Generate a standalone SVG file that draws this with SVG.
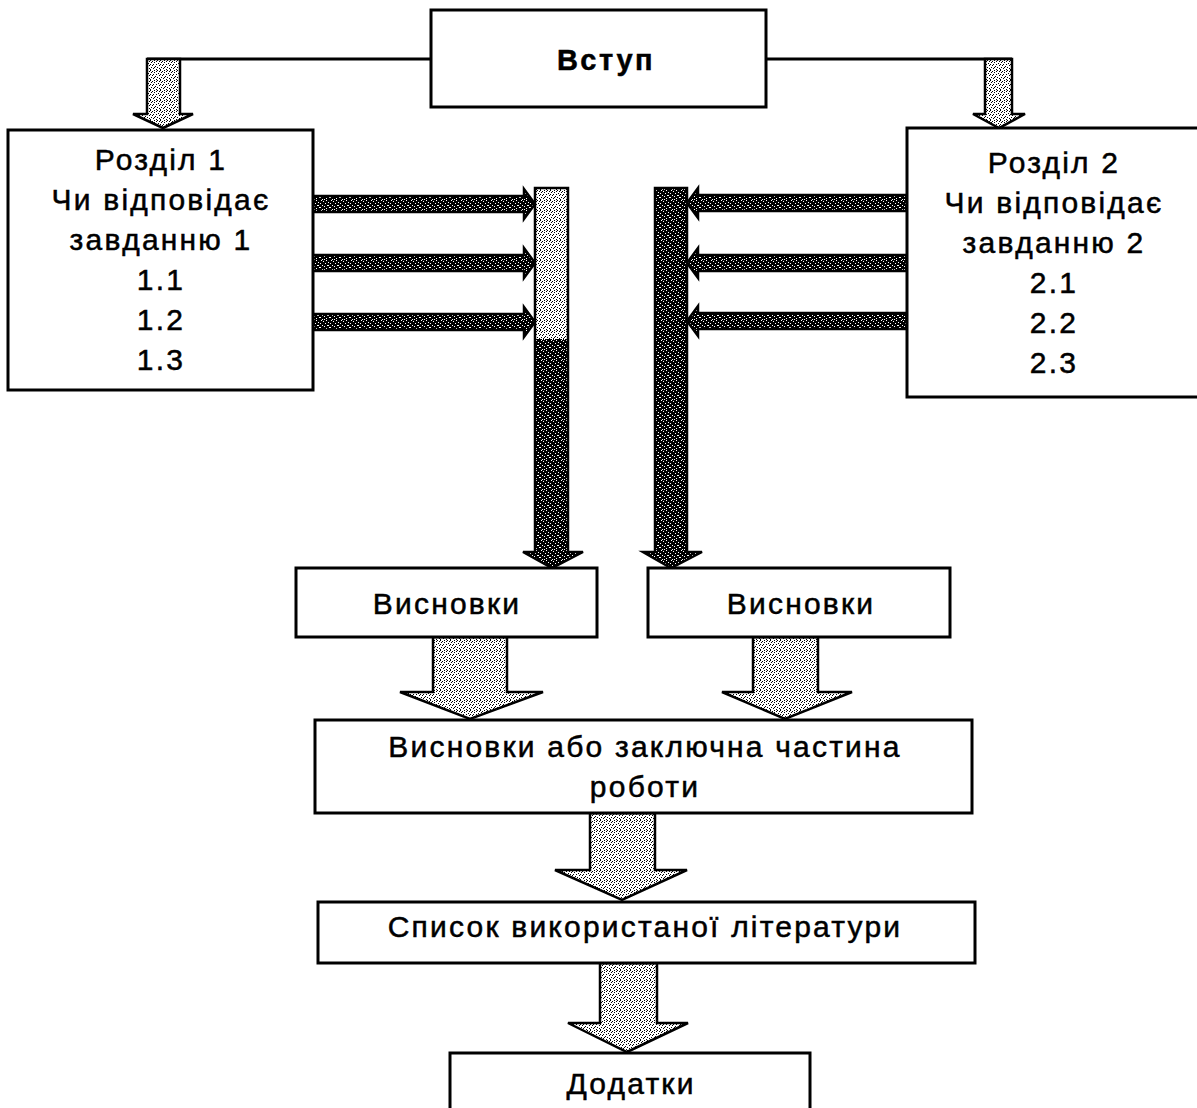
<svg xmlns="http://www.w3.org/2000/svg" width="1197" height="1108" viewBox="0 0 1197 1108">
<style>
.box{fill:#fff;stroke:#000;stroke-width:3}
.t{font-family:"Liberation Sans",Arial,sans-serif;font-size:30px;letter-spacing:2.2px;fill:#000;stroke:#000;stroke-width:0.5;text-anchor:middle}
.b{font-weight:bold;font-size:29px;letter-spacing:2.5px}
.line{fill:none;stroke:#000;stroke-width:3}
.ad{fill:url(#dk);stroke:#000;stroke-width:2.5;stroke-linejoin:miter}
.al{fill:url(#lt);stroke:#000;stroke-width:2.5;stroke-linejoin:miter}
</style>
<defs>
<pattern id="dk" width="10" height="10" patternUnits="userSpaceOnUse">
<rect width="10" height="10" fill="#000"/>
<path fill="#fff" d="M1,0h1v1h-1zM6,0h1v1h-1zM3,1h1v1h-1zM8,2h1v1h-1zM0,3h1v1h-1zM5,3h1v1h-1zM2,5h1v1h-1zM7,5h2v1h-2zM4,6h1v1h-1zM0,7h1v1h-1zM9,7h1v1h-1zM6,8h1v1h-1zM2,9h1v1h-1zM4,9h1v1h-1z"/>
</pattern>
<pattern id="lt" width="10" height="10" patternUnits="userSpaceOnUse">
<rect width="10" height="10" fill="#fff"/>
<path fill="#000" d="M0,0h1v1h-1zM4,0h1v1h-1zM7,0h1v1h-1zM2,1h1v1h-1zM6,1h1v1h-1zM9,1h1v1h-1zM1,2h1v1h-1zM4,2h1v1h-1zM8,3h1v1h-1zM0,4h1v1h-1zM3,4h1v1h-1zM6,4h1v1h-1zM2,5h1v1h-1zM9,5h1v1h-1zM5,6h1v1h-1zM1,7h1v1h-1zM4,7h1v1h-1zM7,7h1v1h-1zM3,8h1v1h-1zM9,8h1v1h-1zM0,9h1v1h-1zM6,9h1v1h-1z"/>
</pattern>
</defs>

<g id="connectors">
<path class="line" d="M431,59 H147"/>
<path class="line" d="M766,59 H1012"/>
<polygon class="al" points="147,59 180,59 180,114 193,114 163,128 133,114 147,114"/>
<polygon class="al" points="985,59 1012,59 1012,114 1025,114 999,128 973,114 985,114"/>
<polygon class="ad" points="313,196 524,196 524,189 535,204 524,219 524,212 313,212"/>
<polygon class="ad" points="313,255 524,255 524,248 535,263 524,278 524,271 313,271"/>
<polygon class="ad" points="313,314 524,314 524,307 535,322 524,337 524,330 313,330"/>
<polygon class="ad" points="907,195 698,195 698,188 687,203 698,218 698,211 907,211"/>
<polygon class="ad" points="907,255 698,255 698,248 687,263 698,278 698,271 907,271"/>
<polygon class="ad" points="907,313 698,313 698,306 687,321 698,336 698,329 907,329"/>
<polygon fill="url(#dk)" points="535,188 568,188 568,552 583,552 552,568 523,552 535,552"/>
<rect x="536" y="189" width="31" height="150" fill="url(#lt)"/>
<polygon fill="none" stroke="#000" stroke-width="2.5" points="535,188 568,188 568,552 583,552 552,568 523,552 535,552"/>
<polygon class="ad" points="655,188 687,188 687,552 702,552 671,568 643,552 655,552"/>
<polygon class="al" points="433,637 507,637 507,692 543,692 470,719 400,692 433,692"/>
<polygon class="al" points="753,637 818,637 818,692 852,692 785,719 722,692 753,692"/>
<polygon class="al" points="590,813 655,813 655,870 687,870 622,900 555,870 590,870"/>
<polygon class="al" points="600,963 657,963 657,1023 688,1023 627,1052 568,1023 600,1023"/>
</g>

<g id="vstup">
<rect class="box" x="431" y="10" width="335" height="97"/>
<text class="t b" x="606" y="70">Вступ</text>
</g>

<g id="rozdil1">
<rect class="box" x="8" y="130" width="305" height="260"/>
<text class="t" x="161" y="170">Розділ 1</text>
<text class="t" x="161" y="210">Чи відповідає</text>
<text class="t" x="161" y="250">завданню 1</text>
<text class="t" x="161" y="290">1.1</text>
<text class="t" x="161" y="330">1.2</text>
<text class="t" x="161" y="370">1.3</text>
</g>

<g id="rozdil2">
<rect class="box" x="907" y="128" width="295" height="269"/>
<text class="t" x="1054" y="173">Розділ 2</text>
<text class="t" x="1054" y="213">Чи відповідає</text>
<text class="t" x="1054" y="253">завданню 2</text>
<text class="t" x="1054" y="293">2.1</text>
<text class="t" x="1054" y="333">2.2</text>
<text class="t" x="1054" y="373">2.3</text>
</g>

<g id="vysnovky1">
<rect class="box" x="296" y="568" width="301" height="69"/>
<text class="t" x="447" y="614">Висновки</text>
</g>

<g id="vysnovky2">
<rect class="box" x="648" y="568" width="302" height="69"/>
<text class="t" x="801" y="614">Висновки</text>
</g>

<g id="zakl">
<rect class="box" x="315" y="720" width="657" height="93"/>
<text class="t" x="645" y="757">Висновки або заключна частина</text>
<text class="t" x="645" y="797">роботи</text>
</g>

<g id="spysok">
<rect class="box" x="318" y="902" width="657" height="61"/>
<text class="t" x="645" y="937">Список використаної літератури</text>
</g>

<g id="dodatky">
<rect class="box" x="450" y="1053" width="360" height="70"/>
<text class="t" x="631" y="1094">Додатки</text>
</g>
</svg>
